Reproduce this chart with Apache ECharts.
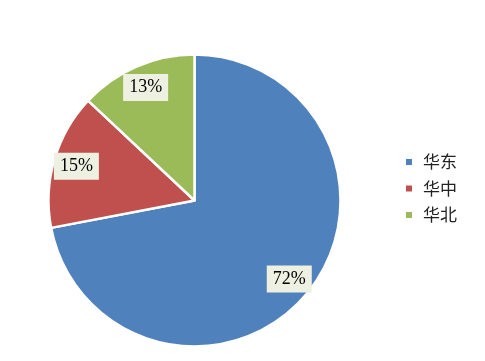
<!DOCTYPE html>
<html><head><meta charset="utf-8">
<script src="https://cdn.jsdelivr.net/npm/echarts@6/dist/echarts.min.js"></script>
<style>html,body{margin:0;padding:0;background:#fff;}#c{width:485px;height:361px;}</style>
</head><body><div id="c"></div>
<script>
var categories = ['华东', '华中', '华北'];
var values = [72, 15, 13];
var colors = ['#4f81bd', '#c0504d', '#9bbb59'];

var data = categories.map(function (n, i) { return { name: n, value: values[i], itemStyle: { color: colors[i] } }; });
var chart = echarts.init(document.getElementById('c'));
chart.setOption({
  animation: false,
  legend: {
    orient: 'vertical', left: 399, top: 148,
    icon: 'rect', itemWidth: 8, itemHeight: 8, itemGap: 8.5,
    textStyle: { fontFamily: 'Noto Sans CJK SC', fontSize: 17, color: '#222', lineHeight: 18, padding: [0, 0, 0, 5] },
    data: categories
  },
  series: [{
    type: 'pie', center: [194.5, 200.5], radius: [0, 146], startAngle: 90, clockwise: true,
    data: data, label: { show: false }, labelLine: { show: false },
    itemStyle: { borderColor: '#fff', borderWidth: 2.5 }, emphasis: { disabled: true }, silent: true
  }, {
    type: 'pie', center: [194.5, 200.5], radius: [94, 146], startAngle: 90, clockwise: true,
    data: data.map(function (d) { return { name: d.name, value: d.value }; }),
    itemStyle: { color: 'rgba(0,0,0,0)' }, silent: true, emphasis: { disabled: true },
    legendHoverLink: false,
    label: {
      show: true, position: 'inside', formatter: '{c}%',
      fontFamily: 'Liberation Serif', fontSize: 18, color: '#000',
      backgroundColor: '#eef1e2', padding: [5, 6, 4, 6]
    },
    labelLine: { show: false }
  }]
});
</script></body></html>
